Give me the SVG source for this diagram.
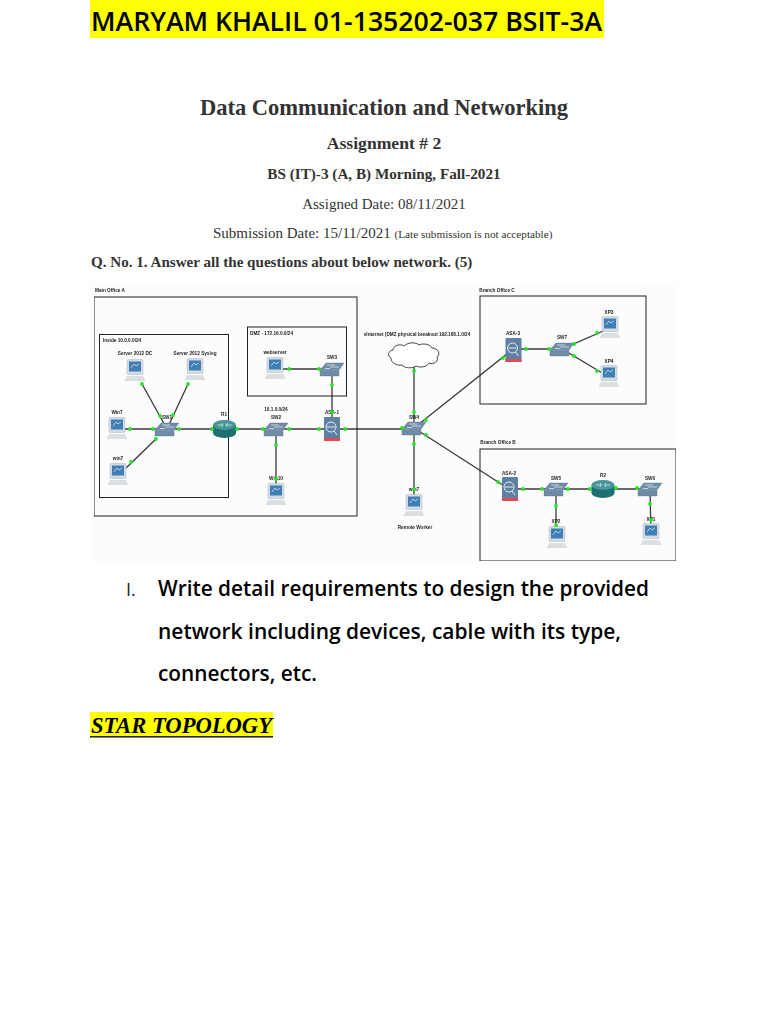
<svg xmlns="http://www.w3.org/2000/svg" width="768" height="1024" viewBox="0 0 768 1024">
<style>
.s{font-family:"Liberation Serif",serif;fill:#333}
.b{font-weight:bold}
.m{text-anchor:middle}
.o{font-family:"Open Sans","Noto Sans",sans-serif}
.l{font-family:"Liberation Sans",sans-serif;font-size:4.700px;font-weight:bold;fill:#222;text-anchor:middle}
.box{fill:none;stroke:#222;stroke-width:1}
.c{stroke:#3a3a3a;stroke-width:1.300;fill:none}
.d{fill:#22e622}
</style>
<defs>
<filter id="soft" x="0" y="0" width="1" height="1"><feGaussianBlur stdDeviation="0.4"/></filter>
<g id="pc">
<rect x="-8" y="-7.500" width="16" height="15" rx="1" fill="#d4dbe3" stroke="#aeb7c1" stroke-width=".5"/>
<rect x="-6" y="-5.500" width="12" height="10" fill="#3f7fb5"/>
<path d="M-4 1-1-3 1-1 4-3" fill="none" stroke="#cfe3f2" stroke-width=".8"/>
<path d="M-8 9H8L10.500 14H-10.500Z" fill="#dcdfe2"/>
</g>
<g id="sw">
<path d="M-12 1-6-6H12L7 1V7H-12Z" fill="#6f8ba6" stroke="#5b7590" stroke-width=".4"/>
<path d="M-12 1H7L12-6" fill="none" stroke="#93a9be" stroke-width=".5"/>
<path d="M-5-4H3M-2-2H7M-7-.5H-2" stroke="#dfe7ee" stroke-width=".8"/>
</g>
<g id="r">
<ellipse cx="0" cy="4" rx="11.500" ry="5" fill="#1d6f72"/>
<rect x="-11.500" y="-4" width="23" height="8" fill="#1d6f72"/>
<ellipse cx="0" cy="-4" rx="11.500" ry="5" fill="#4a9698"/>
<path d="M-7-4H-2M2-4H7M-3-6-1.500-4-3-2M3-6 1.500-4 3-2" stroke="#dff" stroke-width=".7" fill="none"/>
</g>
<g id="asa">
<rect x="-8" y="-12" width="16" height="24" rx="1" fill="#5d80a3"/>
<rect x="-8" y="9" width="16" height="3" fill="#e4484f"/>
<circle cx="-1" cy="-2" r="5" fill="none" stroke="#e6eef5" stroke-width="1"/>
<path d="M-5-2H3M2 2 5 6" stroke="#e6eef5" stroke-width="1"/>
</g>
</defs>
<rect width="768" height="1024" fill="#fff"/>
<g id="header">
<rect x="90" y="0" width="514" height="38" fill="#ffff00"/>
<text class="o" x="91" y="31" font-size="27" font-weight="600" fill="#000" textLength="511" lengthAdjust="spacingAndGlyphs">MARYAM KHALIL 01-135202-037 BSIT-3A</text>
<text class="s b m" x="384" y="115" font-size="22.500">Data Communication and Networking</text>
<text class="s b m" x="384" y="149" font-size="17.600">Assignment # 2</text>
<text class="s b m" x="384" y="179" font-size="15.200">BS (IT)-3 (A, B) Morning, Fall-2021</text>
<text class="s m" x="384" y="209" font-size="15">Assigned Date: 08/11/2021</text>
<text class="s" x="213" y="238" font-size="15">Submission Date: 15/11/2021 <tspan font-size="11.200">(Late submission is not acceptable)</tspan></text>
<text class="s b" x="91" y="267" font-size="15.100">Q. No. 1. Answer all the questions about below network. (5)</text>
</g>
<rect x="92" y="284" width="584" height="278" fill="#fcfcfc"/>
<g filter="url(#soft)">
<g id="connectors">
<path class="c" d="M117 429H224M142 384 167 429M188 384 167 429M126 468 157 438M224 429H332M276 429V492M332 429H414M283 369H332V429M414 356V428M414 428V503M414 428 513 349M414 428 509 489M513 349H562L610 328M562 349 609 377M509 489H650M556 489V535M650 489 651 536"/>
</g>
<g id="main-office-a"><rect class="box" x="94" y="297" width="263" height="219"/><text class="l" x="110" y="292">Main Office A</text></g>
<g id="inside"><rect class="box" x="99.500" y="334.500" width="129" height="163"/><text class="l" x="122" y="342">Inside 10.0.0.0/24</text></g>
<g id="dmz"><rect class="box" x="247.500" y="327" width="99" height="69"/><text class="l" x="271.500" y="335">DMZ - 172.16.0.0/24</text></g>
<g id="branch-c"><rect class="box" x="480" y="296" width="166" height="108"/><text class="l" x="497" y="292">Branch Office C</text></g>
<g id="branch-b"><rect class="box" x="480" y="449" width="196" height="112"/><text class="l" x="498" y="444">Branch Office B</text></g>
<g id="server-dc"><use href="#pc" x="135" y="367"/><text class="l" x="135" y="355">Server 2012 DC</text></g>
<g id="server-syslog"><use href="#pc" x="195" y="366"/><text class="l" x="195" y="355">Server 2012 Syslog</text></g>
<g id="win7-a"><use href="#pc" x="117" y="425"/><text class="l" x="117" y="414">Win7</text></g>
<g id="win7-b"><use href="#pc" x="118" y="471"/><text class="l" x="118" y="460">win7</text></g>
<g id="sw1"><use href="#sw" x="167" y="429"/><text class="l" x="167" y="419">SW1</text></g>
<g id="r1"><use href="#r" x="224.500" y="429"/><text class="l" x="224" y="416">R1</text></g>
<g id="sw2"><use href="#sw" x="276" y="429"/><text class="l" x="276" y="411">10.1.0.0/24</text><text class="l" x="276" y="419">SW2</text></g>
<g id="win10"><use href="#pc" x="276" y="491"/><text class="l" x="276" y="480">Win10</text></g>
<g id="asa-1"><use href="#asa" x="332" y="429"/><text class="l" x="332" y="414">ASA-1</text></g>
<g id="webserver"><use href="#pc" x="275" y="365"/><text class="l" x="275" y="354">webserver</text></g>
<g id="sw3"><use href="#sw" x="332" y="369"/><text class="l" x="332" y="359">SW3</text></g>
<g id="cloud"><path d="M391 358c-4-2-3-7 2-8 0-4 7-7 11-4 4-4 12-4 15-1 4-2 11-1 13 3 6 0 9 6 5 9 2 4-3 8-8 6-2 4-9 5-13 3-4 3-12 2-14-1-5 1-11-2-11-7Z" fill="#fff" stroke="#333" stroke-width=".9"/><text class="l" x="417" y="336">vInternet (DMZ physical breakout 192.168.1.0/24</text></g>
<g id="sw4"><use href="#sw" x="414" y="428"/><text class="l" x="414" y="419">SW4</text></g>
<g id="remote"><use href="#pc" x="414" y="502"/><text class="l" x="414" y="491">win7</text><text class="l" x="415" y="529">Remote Worker</text></g>
<g id="asa-3"><use href="#asa" x="513.500" y="350"/><text class="l" x="513" y="335">ASA-3</text></g>
<g id="sw7"><use href="#sw" x="562" y="349"/><text class="l" x="562" y="339">SW7</text></g>
<g id="xp3"><use href="#pc" x="610" y="324"/><text class="l" x="609" y="314">XP3</text></g>
<g id="xp4"><use href="#pc" x="609" y="373"/><text class="l" x="609" y="363">XP4</text></g>
<g id="asa-2"><use href="#asa" x="510" y="489"/><text class="l" x="509" y="475">ASA-2</text></g>
<g id="sw5"><use href="#sw" x="556" y="489"/><text class="l" x="556" y="480">SW5</text></g>
<g id="r2"><use href="#r" x="603" y="489"/><text class="l" x="603" y="477">R2</text></g>
<g id="sw6"><use href="#sw" x="650" y="489"/><text class="l" x="650" y="480">SW6</text></g>
<g id="xp2"><use href="#pc" x="557" y="534"/><text class="l" x="556" y="523">XP2</text></g>
<g id="xp1"><use href="#pc" x="651" y="531"/><text class="l" x="651" y="521">XP1</text></g>
<g id="link-dots" class="d">
<circle cx="130" cy="429" r="1.900"/><circle cx="153" cy="429" r="1.900"/><circle cx="142" cy="384" r="1.900"/><circle cx="188" cy="384" r="1.900"/><circle cx="160" cy="416" r="1.900"/><circle cx="173" cy="415" r="1.900"/><circle cx="131" cy="462" r="1.900"/><circle cx="156" cy="439" r="1.900"/><circle cx="179" cy="429" r="1.900"/><circle cx="212" cy="429" r="1.900"/><circle cx="237" cy="429" r="1.900"/><circle cx="263" cy="429" r="1.900"/><circle cx="289" cy="429" r="1.900"/><circle cx="319" cy="429" r="1.900"/><circle cx="345" cy="429" r="1.900"/><circle cx="276" cy="445" r="1.900"/><circle cx="276" cy="479" r="1.900"/><circle cx="289" cy="369" r="1.900"/><circle cx="319" cy="369" r="1.900"/><circle cx="332" cy="385" r="1.900"/><circle cx="332" cy="412" r="1.900"/><circle cx="402" cy="428" r="1.900"/><circle cx="414" cy="371" r="1.900"/><circle cx="414" cy="412" r="1.900"/><circle cx="414" cy="444" r="1.900"/><circle cx="414" cy="489" r="1.900"/><circle cx="426" cy="420" r="1.900"/><circle cx="426" cy="435" r="1.900"/><circle cx="503" cy="358" r="1.900"/><circle cx="498" cy="482" r="1.900"/><circle cx="526" cy="349" r="1.900"/><circle cx="549" cy="349" r="1.900"/><circle cx="574" cy="344" r="1.900"/><circle cx="597" cy="333" r="1.900"/><circle cx="574" cy="356" r="1.900"/><circle cx="597" cy="371" r="1.900"/><circle cx="523" cy="489" r="1.900"/><circle cx="542" cy="489" r="1.900"/><circle cx="568" cy="489" r="1.900"/><circle cx="590" cy="489" r="1.900"/><circle cx="616" cy="488" r="1.900"/><circle cx="637" cy="488" r="1.900"/><circle cx="556" cy="506" r="1.900"/><circle cx="556" cy="525" r="1.900"/><circle cx="650" cy="504" r="1.900"/><circle cx="651" cy="520" r="1.900"/>
</g>
</g>
<g id="body">
<text class="o" x="126" y="596" font-size="18" fill="#222">I.</text>
<text class="o" x="158" y="596" font-size="20.800" font-weight="600" fill="#000" textLength="491" lengthAdjust="spacingAndGlyphs">Write detail requirements to design the provided</text>
<text class="o" x="158" y="639" font-size="20.800" font-weight="600" fill="#000" textLength="463" lengthAdjust="spacingAndGlyphs">network including devices, cable with its type,</text>
<text class="o" x="158" y="681" font-size="20.800" font-weight="600" fill="#000" textLength="159" lengthAdjust="spacingAndGlyphs">connectors, etc.</text>
<rect x="90" y="712" width="183" height="26" fill="#ffff00"/>
<text x="91" y="733" font-family="Liberation Serif" font-size="22.500" font-weight="bold" font-style="italic" fill="#000" textLength="181" lengthAdjust="spacingAndGlyphs">STAR TOPOLOGY</text>
<rect x="90" y="736" width="183" height="1.500" fill="#222"/>
</g>
</svg>
